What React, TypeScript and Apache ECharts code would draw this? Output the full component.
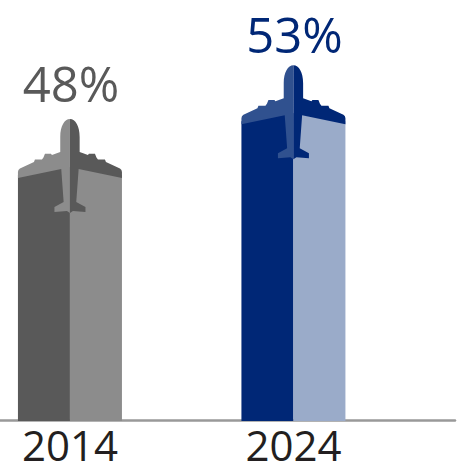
import React, { useEffect, useRef } from "react";
import * as echarts from "echarts";

const years = [2014, 2024];
const shares = [48, 53];

const palettes = [
  { left: "#595959", right: "#8c8c8c", text: "#595959" },
  { left: "#002776", right: "#9aabc9", text: "#002776", wing: "#30518f" },
];

// Half of the aircraft silhouette, drawn from the nose at (0,0) towards the left wing.
const halfPlane =
  "M0 0 C-5.5 0 -9.7 7 -9.7 18 L-9.7 33 L-18 36 L-19 34.8 L-25 34.8 L-26.5 38.5 L-28 40.5 L-35 40.5 L-36 43 " +
  "L-50 49.5 Q-52 50.5 -52 53 L-52 59 L-8.7 50 L-6.3 83 L-15.5 88 L-15.5 93 L-3 92 L0 94 Z";
echarts.graphic.registerShape("halfPlane", echarts.graphic.extendPath(halfPlane, {}) as any);

const WING_SPAN = 52;
const LABEL_LIFT = [26, 21];
const LABEL_SIZE = 49;

function renderColumn(params: any, api: any) {
  const i = params.dataIndex;
  const [cx, tipY] = api.coord([api.value(0), api.value(1)]);
  const baseY = api.coord([api.value(0), 20])[1] + 1;
  const colors = palettes[i];
  const wingLight = (colors as any).wing ?? colors.right;
  const wingDark = colors.left;
  const side = (sign: number, fill: string) => ({
    type: "polygon",
    shape: {
      points: [
        [cx, tipY + 48],
        [cx + sign * WING_SPAN, tipY + 56],
        [cx + sign * WING_SPAN, baseY],
        [cx, baseY],
      ],
    },
    style: { fill },
  });
  return {
    type: "group",
    children: [
      side(-1, colors.left),
      side(1, colors.right),
      { type: "halfPlane", x: cx, y: tipY, style: { fill: wingLight } },
      { type: "halfPlane", x: cx, y: tipY, scaleX: -1, style: { fill: wingDark } },
      {
        type: "text",
        x: cx + 1,
        y: tipY - LABEL_LIFT[i] + 14,
        style: {
          text: `${api.value(1)}%`,
          fill: colors.text,
          font: `400 ${LABEL_SIZE}px "Open Sans"`,
          align: "center",
          verticalAlign: "bottom",
        },
      },
    ],
  };
}

export default function App() {
  const ref = useRef<HTMLDivElement>(null);
  useEffect(() => {
    const chart = echarts.init(ref.current!, null, { renderer: "svg" });
    chart.setOption({
      animation: false,
      backgroundColor: "#ffffff",
      grid: { left: 0, right: 14, top: 11.5, bottom: 48 },
      xAxis: {
        type: "value",
        min: 2010.87,
        max: 2031.23,
        splitLine: { show: false },
        axisTick: { show: false },
        axisLine: { show: true, onZero: false, lineStyle: { color: "#999999", width: 2.5 } },
        axisLabel: {
          margin: 5,
          color: "#231f20",
          fontFamily: "Open Sans",
          fontSize: 42,
          lineHeight: 38,
          customValues: years,
          formatter: (v: number) => String(v),
        },
      },
      yAxis: { type: "value", min: 20, max: 58, show: false, splitLine: { show: false } },
      series: [
        {
          type: "custom",
          z: 5,
          clip: false,
          encode: { x: 0, y: 1 },
          data: years.map((y, i) => [y, shares[i]]),
          renderItem: renderColumn,
        },
      ],
    });
    return () => chart.dispose();
  }, []);
  return (
    <div
      ref={ref}
      style={{ position: "fixed", left: 0, top: 0, width: 469, height: 468 }}
    />
  );
}
